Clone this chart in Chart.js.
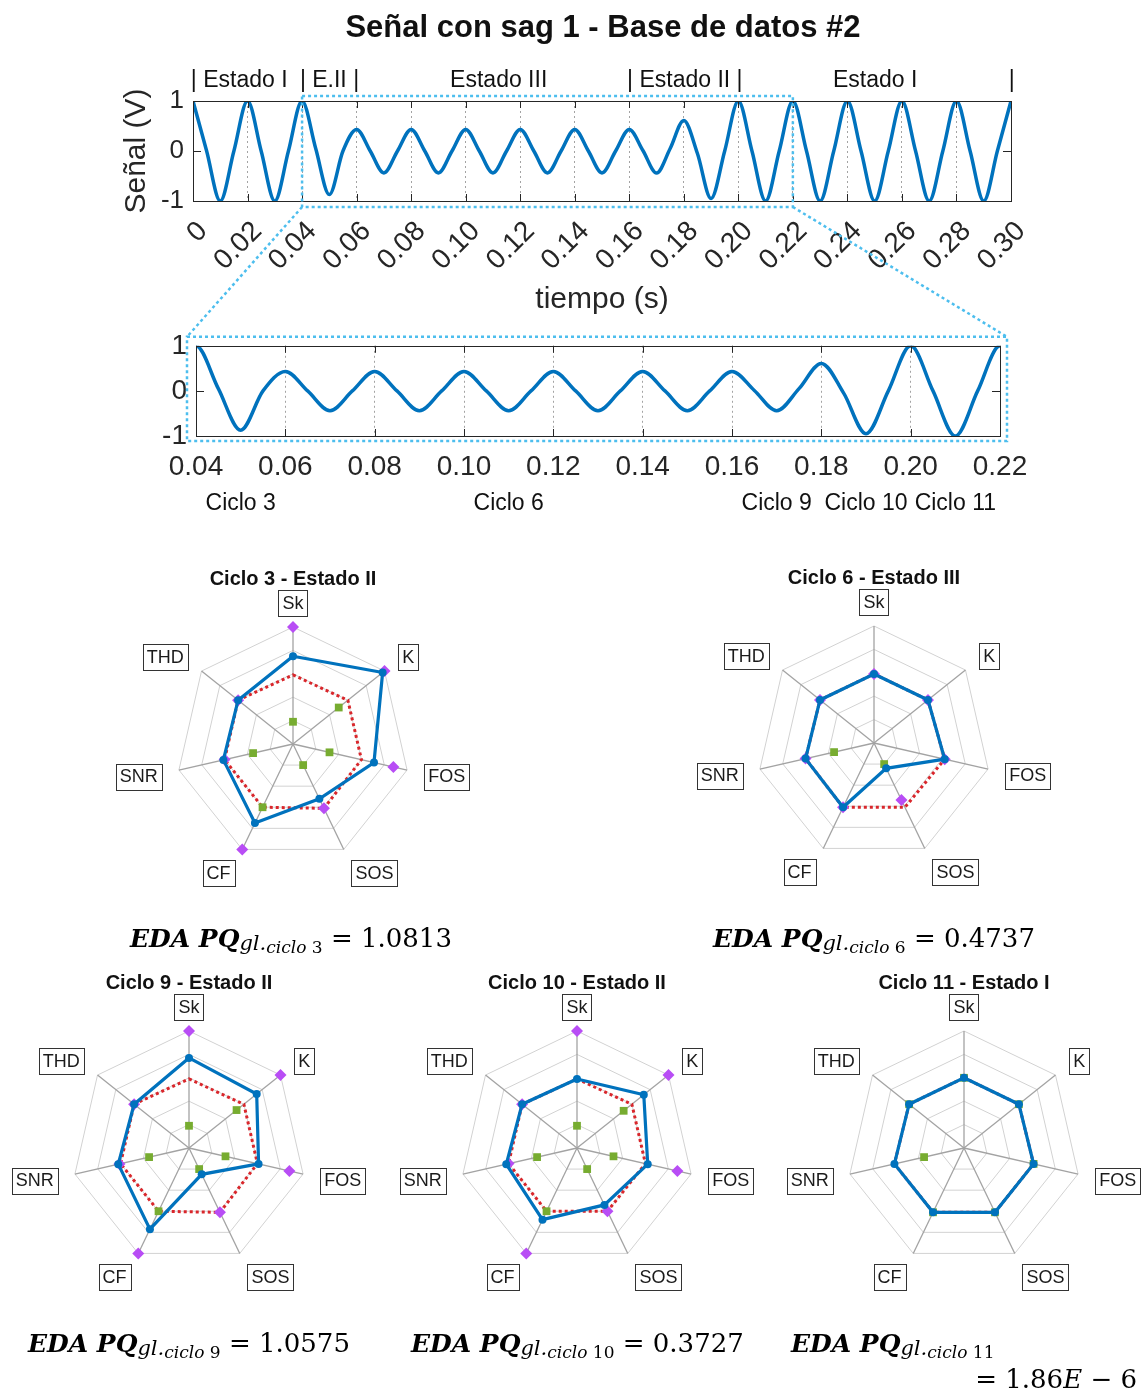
<!DOCTYPE html>
<html>
<head>
<meta charset="utf-8">
<script src="https://cdn.jsdelivr.net/npm/chart.js@4.4.0/dist/chart.umd.min.js"></script>
<style>
  html, body { margin: 0; padding: 0; background: #fff; }
  #page { position: relative; width: 1142px; height: 1392px; overflow: hidden; }
  canvas { position: absolute; }
  .eq { position: absolute; font-family: "DejaVu Serif", "Liberation Serif", serif; font-size: 26px; line-height: 30px; color: #000; white-space: nowrap; }
  .eq b { font-style: italic; font-weight: bold; font-size: 25px; }
  .eq .s1 { font-style: italic; font-size: 21px; position: relative; top: 3px; }
  .eq .s2 { font-size: 17px; position: relative; top: 3px; }
  .eq .up { font-style: normal; }
</style>
</head>
<body>
<div id="page">
  <canvas id="sig-top" width="1142" height="345" style="left:0;top:0"></canvas>
  <canvas id="sig-zoom" width="1142" height="210" style="left:0;top:320px"></canvas>
  <canvas id="r3" width="380" height="380" style="left:103px;top:554px"></canvas>
  <canvas id="r6" width="380" height="380" style="left:684px;top:553px"></canvas>
  <canvas id="r9" width="380" height="380" style="left:-1px;top:958px"></canvas>
  <canvas id="r10" width="380" height="380" style="left:387px;top:958px"></canvas>
  <canvas id="r11" width="380" height="380" style="left:774px;top:958px"></canvas>

  <div class="eq" style="left:130px;top:923px"><b>EDA PQ</b><span class="s1">gl.<span class="s2">ciclo <span class="up">3</span></span></span> = 1.0813</div>
  <div class="eq" style="left:713px;top:923px"><b>EDA PQ</b><span class="s1">gl.<span class="s2">ciclo <span class="up">6</span></span></span> = 0.4737</div>
  <div class="eq" style="left:28px;top:1328px"><b>EDA PQ</b><span class="s1">gl.<span class="s2">ciclo <span class="up">9</span></span></span> = 1.0575</div>
  <div class="eq" style="left:411px;top:1328px"><b>EDA PQ</b><span class="s1">gl.<span class="s2">ciclo <span class="up">10</span></span></span> = 0.3727</div>
  <div class="eq" style="left:791px;top:1328px"><b>EDA PQ</b><span class="s1">gl.<span class="s2">ciclo <span class="up">11</span></span></span></div>
  <div class="eq" style="right:5px;top:1364px">= 1.86<i>E</i> − 6</div>
</div>

<script>
Chart.defaults.font.family = '"Liberation Sans", Arial, Helvetica, sans-serif';
Chart.defaults.color = "#262626";
Chart.defaults.animation = false;

const BLUE = "#0072BD";
const RED = "#D9262B";
const GREEN = "#77AC30";
const PURPLE = "#B84DF5";
const CYAN = "#4DBEEE";
const FONT = '"Liberation Sans", Arial, Helvetica, sans-serif';

const SIG_T = [0, 0.005, 0.01, 0.015, 0.02, 0.025, 0.03, 0.035, 0.04, 0.045,
  0.05, 0.055, 0.06, 0.065, 0.07, 0.075, 0.08, 0.085, 0.09, 0.095,
  0.1, 0.105, 0.11, 0.115, 0.12, 0.125, 0.13, 0.135, 0.14, 0.145,
  0.15, 0.155, 0.16, 0.165, 0.17, 0.175, 0.18, 0.185, 0.19, 0.195,
  0.2, 0.205, 0.21, 0.215, 0.22, 0.225, 0.23, 0.235, 0.24, 0.245,
  0.25, 0.255, 0.26, 0.265, 0.27, 0.275, 0.28, 0.285, 0.29, 0.295, 0.3];
const SIG_V = [1, 0, -1, 0, 1, 0, -1, 0, 1, 0.05,
  -0.87, 0, 0.43, 0, -0.44, 0, 0.43, 0, -0.44, 0,
  0.43, 0, -0.44, 0, 0.43, 0, -0.44, 0, 0.43, 0,
  -0.44, 0, 0.43, 0.01, -0.44, 0.05, 0.61, -0.05, -0.95, 0,
  1, 0, -1, 0, 1, 0, -1, 0, 1, 0,
  -1, 0, 1, 0, -1, 0, 1, 0, -1, 0, 1];

const TOP_TICKS = [0, 0.02, 0.04, 0.06, 0.08, 0.1, 0.12, 0.14, 0.16, 0.18, 0.2, 0.22, 0.24, 0.26, 0.28, 0.3];
const TOP_TICK_LABELS = ["0", "0.02", "0.04", "0.06", "0.08", "0.10", "0.12", "0.14", "0.16", "0.18", "0.20", "0.22", "0.24", "0.26", "0.28", "0.30"];
const ZOOM_TICKS = [0.04, 0.06, 0.08, 0.1, 0.12, 0.14, 0.16, 0.18, 0.2, 0.22];
const ZOOM_TICK_LABELS = ["0.04", "0.06", "0.08", "0.10", "0.12", "0.14", "0.16", "0.18", "0.20", "0.22"];
const Y_TICKS = [-1, 0, 1];
const Y_TICK_LABELS = ["-1", "0", "1"];

const STATE_TEXT = ["| Estado I", "| E.II |", "Estado III", "| Estado II |", "Estado I", "|"];
const STATE_T = [-0.0008, 0.0392, 0.0943, 0.1592, 0.2347, 0.2992];
const CYCLE_TEXT = ["Ciclo 3", "Ciclo 6", "Ciclo 9", "Ciclo 10", "Ciclo 11"];
const CYCLE_T = [0.05, 0.11, 0.17, 0.19, 0.21];

/* ── radar values (fraction of outer ring) ── */
const AXES = ["Sk", "K", "FOS", "SOS", "CF", "SNR", "THD"];

const C3_BLUE = [0.75, 0.98, 0.71, 0.52, 0.75, 0.61, 0.6];
const C3_RED = [0.59, 0.6, 0.6, 0.61, 0.6, 0.6, 0.6];
const C3_GREEN = [0.19, 0.5, 0.32, 0.2, 0.6, 0.35, null];
const C3_PURPLE = [1.0, 1.0, 0.88, 0.61, 1.0, 0.6, 0.6];

const C6_BLUE = [0.59, 0.59, 0.62, 0.24, 0.61, 0.6, 0.59];
const C6_RED = [0.59, 0.59, 0.62, 0.61, 0.61, 0.6, 0.59];
const C6_GREEN = [null, null, null, 0.2, null, 0.35, null];
const C6_PURPLE = [0.59, 0.59, 0.62, 0.54, 0.61, 0.6, 0.59];

const C9_BLUE = [0.77, 0.74, 0.61, 0.25, 0.77, 0.62, 0.6];
const C9_RED = [0.59, 0.6, 0.6, 0.61, 0.6, 0.6, 0.6];
const C9_GREEN = [0.19, 0.52, 0.32, 0.2, 0.6, 0.35, null];
const C9_PURPLE = [1.0, 1.0, 0.88, 0.61, 1.0, 0.61, 0.6];

const C10_BLUE = [0.59, 0.73, 0.62, 0.54, 0.68, 0.62, 0.6];
const C10_RED = [0.59, 0.6, 0.6, 0.6, 0.6, 0.6, 0.6];
const C10_GREEN = [0.19, 0.51, 0.32, 0.2, 0.6, 0.35, null];
const C10_PURPLE = [1.0, 1.0, 0.88, 0.6, 1.0, 0.6, 0.6];

const C11_BLUE = [0.6, 0.6, 0.61, 0.61, 0.61, 0.61, 0.6];
const C11_RED = [0.6, 0.6, 0.61, 0.61, 0.61, 0.61, 0.6];
const C11_GREEN = [0.6, 0.6, 0.61, 0.61, 0.61, 0.35, 0.6];
const C11_PURPLE = [null, null, null, null, null, null, null];

/* page-coordinate box around the zoomed plot, filled in by the zoom chart */
let zoomBox = null;

/* ── frame, inner ticks and annotations for the signal plots ── */
const sigDeco = {
  id: "sigDeco",
  afterDraw(chart, args, o) {
    const { ctx, chartArea: a, scales } = chart;
    const x = scales.x, y = scales.y;
    ctx.save();
    ctx.setLineDash([]);
    ctx.strokeStyle = "#262626";
    ctx.lineWidth = 1;
    ctx.strokeRect(Math.round(a.left) + 0.5, Math.round(a.top) + 0.5, Math.round(a.width), Math.round(a.height));
    ctx.beginPath();
    x.ticks.forEach((t) => {
      const px = Math.round(x.getPixelForValue(t.value)) + 0.5;
      ctx.moveTo(px, a.bottom); ctx.lineTo(px, a.bottom - 7);
      ctx.moveTo(px, a.top); ctx.lineTo(px, a.top + 7);
    });
    y.ticks.forEach((t) => {
      const py = Math.round(y.getPixelForValue(t.value)) + 0.5;
      ctx.moveTo(a.left, py); ctx.lineTo(a.left + 8, py);
      ctx.moveTo(a.right, py); ctx.lineTo(a.right - 8, py);
    });
    ctx.stroke();

    ctx.fillStyle = "#111";
    if (o.title) {
      ctx.font = "bold 31px " + FONT;
      ctx.textAlign = "center";
      ctx.textBaseline = "middle";
      ctx.fillText(o.title, 603, 28);
    }
    if (o.states) {
      ctx.font = "23px " + FONT;
      ctx.textAlign = "left";
      ctx.textBaseline = "middle";
      STATE_TEXT.forEach((s, i) => ctx.fillText(s, x.getPixelForValue(STATE_T[i]), a.top - 20));
    }
    if (o.cycles) {
      ctx.font = "23px " + FONT;
      ctx.textAlign = "center";
      ctx.textBaseline = "middle";
      CYCLE_TEXT.forEach((s, i) => ctx.fillText(s, x.getPixelForValue(CYCLE_T[i]), a.bottom + 68));
    }
    ctx.strokeStyle = CYAN;
    ctx.lineWidth = 2.5;
    ctx.setLineDash([3, 3]);
    if (o.zoomFrame) {
      const top = chart.canvas.offsetTop;
      const l = a.left - 9, t = a.top - 9, r = a.right + 7, b = a.bottom + 5;
      ctx.strokeRect(l, t, r - l, b - t);
      zoomBox = { left: l, top: t + top, right: r, bottom: b + top };
    }
    if (o.zoomRange && zoomBox) {
      const x0 = x.getPixelForValue(o.zoomRange[0]);
      const x1 = x.getPixelForValue(o.zoomRange[1]);
      const t = a.top - 5, b = a.bottom + 6;
      ctx.strokeRect(x0, t, x1 - x0, b - t);
      ctx.beginPath();
      ctx.moveTo(x0, b); ctx.lineTo(zoomBox.left, zoomBox.top);
      ctx.moveTo(x1, b); ctx.lineTo(zoomBox.right, zoomBox.top);
      ctx.stroke();
    }
    ctx.restore();
  },
};

function signalChart(id, cfg) {
  return new Chart(document.getElementById(id), {
    type: "line",
    data: {
      datasets: [{
        data: SIG_T.map((t, i) => ({ x: t, y: SIG_V[i] })),
        borderColor: BLUE,
        borderWidth: 3.5,
        pointRadius: 0,
        cubicInterpolationMode: "monotone",
        fill: false,
      }],
    },
    plugins: [sigDeco],
    options: {
      responsive: false,
      events: [],
      layout: { padding: cfg.padding },
      plugins: { legend: { display: false }, tooltip: { enabled: false }, sigDeco: cfg.deco },
      scales: {
        x: {
          type: "linear",
          min: cfg.ticks[0],
          max: cfg.ticks[cfg.ticks.length - 1],
          afterBuildTicks: (s) => { s.ticks = cfg.ticks.map((v) => ({ value: v })); },
          afterFit: (s) => { s.height = cfg.xHeight; },
          ticks: {
            autoSkip: false,
            minRotation: cfg.rot,
            maxRotation: cfg.rot,
            padding: cfg.xPad,
            labelOffset: cfg.xShift,
            font: { size: cfg.xFont },
            callback: (v, i) => cfg.labels[i],
          },
          grid: { drawTicks: false, color: "#8c8c8c", lineWidth: 0.8 },
          border: { display: false, dash: [2, 3] },
          title: cfg.xTitle,
        },
        y: {
          min: -1,
          max: 1,
          afterBuildTicks: (s) => { s.ticks = Y_TICKS.map((v) => ({ value: v })); },
          afterFit: (s) => { s.width = cfg.yWidth; },
          ticks: { padding: 9, font: { size: cfg.yFont }, callback: (v, i) => Y_TICK_LABELS[i] },
          grid: { display: false, drawTicks: false },
          border: { display: false },
          title: cfg.yTitle,
        },
      },
    },
  });
}

/* zoomed plot first so the top plot knows where to aim its connectors */
signalChart("sig-zoom", {
  ticks: ZOOM_TICKS, labels: ZOOM_TICK_LABELS,
  padding: { left: 100, right: 142, top: 19, bottom: 0 },
  xHeight: 94, yWidth: 96, rot: 0, xPad: 14, xShift: 0, xFont: 28, yFont: 28,
  xTitle: { display: false }, yTitle: { display: false },
  deco: { cycles: true, zoomFrame: true },
});

signalChart("sig-top", {
  ticks: TOP_TICKS, labels: TOP_TICK_LABELS,
  padding: { left: 100, right: 131, top: 101, bottom: 0 },
  xHeight: 144, yWidth: 93, rot: 45, xPad: 14, xShift: 10, xFont: 28, yFont: 26,
  xTitle: { display: true, text: "tiempo (s)", font: { size: 30 }, padding: { top: 0, bottom: 27 } },
  yTitle: { display: true, text: "Señal (V)", font: { size: 30 }, padding: { top: 19, bottom: 0 } },
  deco: { title: "Señal con sag 1 - Base de datos #2", states: true, zoomRange: [0.04, 0.22] },
});

/* ── radar charts ── */
const radarDeco = {
  id: "radarDeco",
  afterDraw(chart, args, o) {
    const { ctx } = chart;
    const r = chart.scales.r;
    ctx.save();
    ctx.fillStyle = "#111";
    ctx.font = "bold 20px " + FONT;
    ctx.textAlign = "center";
    ctx.textBaseline = "middle";
    ctx.fillText(o.title, r.xCenter, r.yCenter - r.drawingArea * 1.41);
    ctx.font = "18px " + FONT;
    chart.data.labels.forEach((lab, i) => {
      const p = r.getPointPositionForValue(i, 1.1);
      const w = ctx.measureText(lab).width + 8, h = 26;
      const cx = Math.cos(p.angle), sy = Math.sin(p.angle);
      const ox = Math.abs(cx) > 0.1 ? Math.sign(cx) * (w / 2 + 6 * Math.abs(cx)) : 0;
      const bx = p.x + ox, by = p.y + sy * h / 2 + 1;
      ctx.fillStyle = "#fff";
      ctx.fillRect(bx - w / 2, by - h / 2, w, h);
      ctx.strokeStyle = "#333";
      ctx.lineWidth = 1;
      ctx.strokeRect(Math.round(bx - w / 2) + 0.5, Math.round(by - h / 2) + 0.5, Math.round(w), h);
      ctx.fillStyle = "#1a1a1a";
      ctx.fillText(lab, bx, by + 1);
    });
    ctx.restore();
  },
};

function radarChart(id, title, blue, red, green, purple) {
  return new Chart(document.getElementById(id), {
    type: "radar",
    data: {
      labels: AXES,
      datasets: [
        { data: blue, borderColor: BLUE, borderWidth: 3.2, pointRadius: 4, pointBackgroundColor: BLUE, pointBorderWidth: 0, fill: false, order: 0 },
        { data: purple, showLine: false, borderWidth: 0, borderColor: "transparent", pointStyle: "rectRot", pointRadius: 6, pointBackgroundColor: PURPLE, pointBorderWidth: 0, fill: false, order: 1 },
        { data: green, showLine: false, borderWidth: 0, borderColor: "transparent", pointStyle: "rect", pointRadius: 5.5, pointBackgroundColor: GREEN, pointBorderWidth: 0, fill: false, order: 2 },
        { data: red, borderColor: RED, borderWidth: 3, borderDash: [3, 3], pointRadius: 0, fill: false, order: 3 },
      ],
    },
    plugins: [radarDeco],
    options: {
      responsive: false,
      events: [],
      layout: { padding: 73 },
      elements: { line: { tension: 0 } },
      plugins: { legend: { display: false }, tooltip: { enabled: false }, radarDeco: { title } },
      scales: {
        r: {
          min: 0,
          max: 1,
          ticks: { display: false, stepSize: 0.2 },
          pointLabels: { display: false },
          grid: { color: "#d2d2d2", lineWidth: 1 },
          angleLines: { color: "#a3a3a3", lineWidth: 1.3 },
        },
      },
    },
  });
}

radarChart("r3", "Ciclo 3 - Estado II", C3_BLUE, C3_RED, C3_GREEN, C3_PURPLE);
radarChart("r6", "Ciclo 6 - Estado III", C6_BLUE, C6_RED, C6_GREEN, C6_PURPLE);
radarChart("r9", "Ciclo 9 - Estado II", C9_BLUE, C9_RED, C9_GREEN, C9_PURPLE);
radarChart("r10", "Ciclo 10 - Estado II", C10_BLUE, C10_RED, C10_GREEN, C10_PURPLE);
radarChart("r11", "Ciclo 11 - Estado I", C11_BLUE, C11_RED, C11_GREEN, C11_PURPLE);
</script>
</body>
</html>
